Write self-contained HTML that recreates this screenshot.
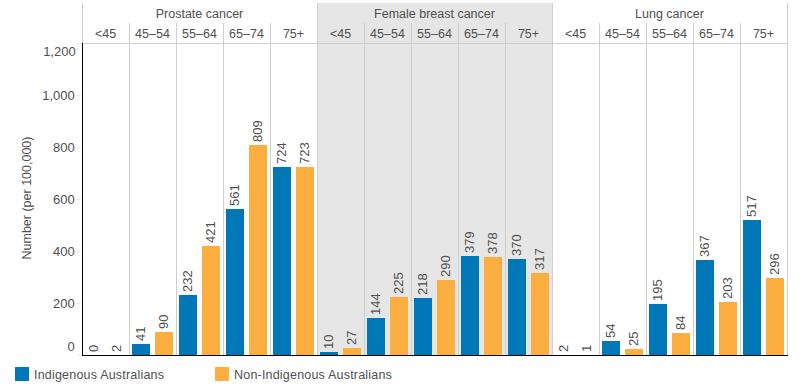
<!DOCTYPE html>
<html><head><meta charset="utf-8"><style>
html,body{margin:0;padding:0;background:#fff;}
body{width:800px;height:392px;position:relative;overflow:hidden;font-family:"Liberation Sans",sans-serif;color:#505050;}
div{box-sizing:border-box;}
.vl{position:absolute;font-size:13px;line-height:13px;height:13px;white-space:nowrap;transform-origin:0 0;transform:rotate(-90deg);}
.hd{position:absolute;text-align:center;font-size:12.5px;line-height:16px;white-space:nowrap;}
.ag{position:absolute;text-align:center;font-size:12.5px;line-height:16px;white-space:nowrap;}
.yl{position:absolute;left:0;width:76px;text-align:right;font-size:13px;line-height:16px;}
.yt{position:absolute;left:21px;top:198px;width:200px;margin-left:0;text-align:center;font-size:12.5px;line-height:13px;height:13px;white-space:nowrap;transform-origin:0 0;transform:translate(0,100px) rotate(-90deg);}
.lg{position:absolute;top:367px;font-size:12.5px;line-height:16px;white-space:nowrap;letter-spacing:0.2px;}
</style></head><body>
<div style="position:absolute;left:318px;top:3px;width:234px;height:352px;background:#e6e6e6"></div><div style="position:absolute;left:82px;top:3px;width:1px;height:40px;background:#cfcfcf"></div><div style="position:absolute;left:129px;top:23px;width:1px;height:332px;background:#cfcfcf"></div><div style="position:absolute;left:176px;top:23px;width:1px;height:332px;background:#cfcfcf"></div><div style="position:absolute;left:223px;top:23px;width:1px;height:332px;background:#cfcfcf"></div><div style="position:absolute;left:270px;top:23px;width:1px;height:332px;background:#cfcfcf"></div><div style="position:absolute;left:317px;top:3px;width:1px;height:352px;background:#cfcfcf"></div><div style="position:absolute;left:364px;top:23px;width:1px;height:332px;background:#cfcfcf"></div><div style="position:absolute;left:411px;top:23px;width:1px;height:332px;background:#cfcfcf"></div><div style="position:absolute;left:458px;top:23px;width:1px;height:332px;background:#cfcfcf"></div><div style="position:absolute;left:505px;top:23px;width:1px;height:332px;background:#cfcfcf"></div><div style="position:absolute;left:552px;top:3px;width:1px;height:352px;background:#cfcfcf"></div><div style="position:absolute;left:599px;top:23px;width:1px;height:332px;background:#cfcfcf"></div><div style="position:absolute;left:646px;top:23px;width:1px;height:332px;background:#cfcfcf"></div><div style="position:absolute;left:693px;top:23px;width:1px;height:332px;background:#cfcfcf"></div><div style="position:absolute;left:740px;top:23px;width:1px;height:332px;background:#cfcfcf"></div><div style="position:absolute;left:787px;top:3px;width:1px;height:352px;background:#cfcfcf"></div><div style="position:absolute;left:82px;top:43px;width:706px;height:1px;background:#cfcfcf"></div><div style="position:absolute;left:77px;top:355px;width:4px;height:1px;background:#e6e6e6"></div><div style="position:absolute;left:77px;top:303px;width:4px;height:1px;background:#e6e6e6"></div><div style="position:absolute;left:77px;top:251px;width:4px;height:1px;background:#e6e6e6"></div><div style="position:absolute;left:77px;top:199px;width:4px;height:1px;background:#e6e6e6"></div><div style="position:absolute;left:77px;top:147px;width:4px;height:1px;background:#e6e6e6"></div><div style="position:absolute;left:77px;top:95px;width:4px;height:1px;background:#e6e6e6"></div><div style="position:absolute;left:77px;top:43px;width:4px;height:1px;background:#e6e6e6"></div><div style="position:absolute;left:85px;top:355.00px;width:18px;height:0.00px;background:#0077b6"></div><div class="vl" style="left:86.90px;top:352.20px">0</div><div style="position:absolute;left:108px;top:355.00px;width:18px;height:0.00px;background:#fdae40"></div><div class="vl" style="left:109.90px;top:352.20px">2</div><div style="position:absolute;left:132px;top:344.00px;width:18px;height:11.00px;background:#0077b6"></div><div class="vl" style="left:133.90px;top:341.20px">41</div><div style="position:absolute;left:155px;top:332.00px;width:18px;height:23.00px;background:#fdae40"></div><div class="vl" style="left:156.90px;top:329.20px">90</div><div style="position:absolute;left:179px;top:295.00px;width:18px;height:60.00px;background:#0077b6"></div><div class="vl" style="left:180.90px;top:292.20px">232</div><div style="position:absolute;left:202px;top:246.00px;width:18px;height:109.00px;background:#fdae40"></div><div class="vl" style="left:203.90px;top:243.20px">421</div><div style="position:absolute;left:226px;top:209.00px;width:18px;height:146.00px;background:#0077b6"></div><div class="vl" style="left:227.90px;top:206.20px">561</div><div style="position:absolute;left:249px;top:145.00px;width:18px;height:210.00px;background:#fdae40"></div><div class="vl" style="left:250.90px;top:142.20px">809</div><div style="position:absolute;left:273px;top:167.00px;width:18px;height:188.00px;background:#0077b6"></div><div class="vl" style="left:274.90px;top:164.20px">724</div><div style="position:absolute;left:296px;top:167.00px;width:18px;height:188.00px;background:#fdae40"></div><div class="vl" style="left:297.90px;top:164.20px">723</div><div style="position:absolute;left:320px;top:352.00px;width:18px;height:3.00px;background:#0077b6"></div><div class="vl" style="left:321.90px;top:349.20px">10</div><div style="position:absolute;left:343px;top:348.00px;width:18px;height:7.00px;background:#fdae40"></div><div class="vl" style="left:344.90px;top:345.20px">27</div><div style="position:absolute;left:367px;top:318.00px;width:18px;height:37.00px;background:#0077b6"></div><div class="vl" style="left:368.90px;top:315.20px">144</div><div style="position:absolute;left:390px;top:297.00px;width:18px;height:58.00px;background:#fdae40"></div><div class="vl" style="left:391.90px;top:294.20px">225</div><div style="position:absolute;left:414px;top:298.00px;width:18px;height:57.00px;background:#0077b6"></div><div class="vl" style="left:415.90px;top:295.20px">218</div><div style="position:absolute;left:437px;top:280.00px;width:18px;height:75.00px;background:#fdae40"></div><div class="vl" style="left:438.90px;top:277.20px">290</div><div style="position:absolute;left:461px;top:256.00px;width:18px;height:99.00px;background:#0077b6"></div><div class="vl" style="left:462.90px;top:253.20px">379</div><div style="position:absolute;left:484px;top:257.00px;width:18px;height:98.00px;background:#fdae40"></div><div class="vl" style="left:485.90px;top:254.20px">378</div><div style="position:absolute;left:508px;top:259.00px;width:18px;height:96.00px;background:#0077b6"></div><div class="vl" style="left:509.90px;top:256.20px">370</div><div style="position:absolute;left:531px;top:273.00px;width:18px;height:82.00px;background:#fdae40"></div><div class="vl" style="left:532.90px;top:270.20px">317</div><div style="position:absolute;left:555px;top:355.00px;width:18px;height:0.00px;background:#0077b6"></div><div class="vl" style="left:556.90px;top:352.20px">2</div><div style="position:absolute;left:578px;top:355.00px;width:18px;height:0.00px;background:#fdae40"></div><div class="vl" style="left:579.90px;top:352.20px">1</div><div style="position:absolute;left:602px;top:341.00px;width:18px;height:14.00px;background:#0077b6"></div><div class="vl" style="left:603.90px;top:338.20px">54</div><div style="position:absolute;left:625px;top:349.00px;width:18px;height:6.00px;background:#fdae40"></div><div class="vl" style="left:626.90px;top:346.20px">25</div><div style="position:absolute;left:649px;top:304.00px;width:18px;height:51.00px;background:#0077b6"></div><div class="vl" style="left:650.90px;top:301.20px">195</div><div style="position:absolute;left:672px;top:333.00px;width:18px;height:22.00px;background:#fdae40"></div><div class="vl" style="left:673.90px;top:330.20px">84</div><div style="position:absolute;left:696px;top:260.00px;width:18px;height:95.00px;background:#0077b6"></div><div class="vl" style="left:697.90px;top:257.20px">367</div><div style="position:absolute;left:719px;top:302.00px;width:18px;height:53.00px;background:#fdae40"></div><div class="vl" style="left:720.90px;top:299.20px">203</div><div style="position:absolute;left:743px;top:220.00px;width:18px;height:135.00px;background:#0077b6"></div><div class="vl" style="left:744.90px;top:217.20px">517</div><div style="position:absolute;left:766px;top:278.00px;width:18px;height:77.00px;background:#fdae40"></div><div class="vl" style="left:767.90px;top:275.20px">296</div><div style="position:absolute;left:82px;top:43px;width:1px;height:313px;background:#000"></div><div style="position:absolute;left:82px;top:355px;width:706px;height:1px;background:#000"></div><div class="hd" style="left:99.5px;top:6.2px;width:200px">Prostate cancer</div><div class="ag" style="left:75.5px;top:25.8px;width:60px">&lt;45</div><div class="ag" style="left:122.5px;top:25.8px;width:60px">45–54</div><div class="ag" style="left:169.5px;top:25.8px;width:60px">55–64</div><div class="ag" style="left:216.5px;top:25.8px;width:60px">65–74</div><div class="ag" style="left:263.5px;top:25.8px;width:60px">75+</div><div class="hd" style="left:334.5px;top:6.2px;width:200px">Female breast cancer</div><div class="ag" style="left:310.5px;top:25.8px;width:60px">&lt;45</div><div class="ag" style="left:357.5px;top:25.8px;width:60px">45–54</div><div class="ag" style="left:404.5px;top:25.8px;width:60px">55–64</div><div class="ag" style="left:451.5px;top:25.8px;width:60px">65–74</div><div class="ag" style="left:498.5px;top:25.8px;width:60px">75+</div><div class="hd" style="left:569.5px;top:6.2px;width:200px">Lung cancer</div><div class="ag" style="left:545.5px;top:25.8px;width:60px">&lt;45</div><div class="ag" style="left:592.5px;top:25.8px;width:60px">45–54</div><div class="ag" style="left:639.5px;top:25.8px;width:60px">55–64</div><div class="ag" style="left:686.5px;top:25.8px;width:60px">65–74</div><div class="ag" style="left:733.5px;top:25.8px;width:60px">75+</div><div class="yl" style="top:339.30px;width:74.80px">0</div><div class="yl" style="top:295.50px;width:74.80px">200</div><div class="yl" style="top:244.20px;width:74.80px">400</div><div class="yl" style="top:192.20px;width:74.80px">600</div><div class="yl" style="top:140.20px;width:74.80px">800</div><div class="yl" style="top:87.70px;width:74.80px">1,000</div><div class="yl" style="top:44.10px;width:75.70px">1,200</div><div class="yt">Number (per 100,000)</div><div style="position:absolute;left:15px;top:367px;width:14px;height:14px;background:#0077b6"></div><div class="lg" style="left:34px">Indigenous Australians</div><div style="position:absolute;left:215px;top:367px;width:14px;height:14px;background:#fdae40"></div><div class="lg" style="left:234px">Non-Indigenous Australians</div>
</body></html>
